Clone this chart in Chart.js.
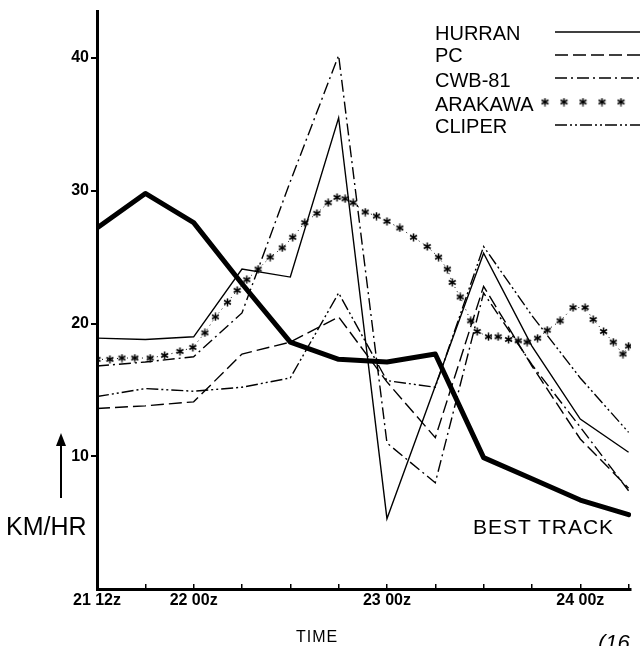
<!DOCTYPE html>
<html><head><meta charset="utf-8">
<script src="https://cdn.jsdelivr.net/npm/chart.js@4"></script>
<style>
html,body{margin:0;padding:0;background:#fff;overflow:hidden}
#wrap{position:relative;width:640px;height:646px;overflow:hidden;background:#fff}
canvas{position:absolute;left:0;top:0}
.t{position:absolute;font-family:"Liberation Sans",Arial,sans-serif;color:#000;white-space:nowrap;line-height:1}
</style></head><body>
<div id="wrap">
<canvas id="c" width="640" height="646"></canvas>
<div class="t" style="left:6px;top:514px;font-size:25px">KM/HR</div>
<div style="position:absolute;left:60px;top:444px;width:2px;height:54px;background:#000"></div>
<div style="position:absolute;left:56px;top:433px;width:0;height:0;border-left:5px solid transparent;border-right:5px solid transparent;border-bottom:13px solid #000"></div>
<div class="t" style="left:473px;top:516px;font-size:21px;letter-spacing:1px">BEST TRACK</div>
<div class="t" style="left:296px;top:629px;font-size:16px;letter-spacing:1px">TIME</div>
<div class="t" style="left:598px;top:632px;font-size:22px;font-style:italic">(16</div>
</div>
<script>
// ---- data ----
const hours = [0, 6, 12, 18, 24, 30, 36, 42, 48, 54, 60, 66];
const bestTrack = [27.2, 29.8, 27.6, 23.0, 18.6, 17.3, 17.1, 17.7, 9.9, 8.3, 6.7, 5.6];
const hurran = [18.9, 18.8, 19.0, 24.1, 23.5, 35.5, 5.3, 15.3, 25.3, 18.3, 12.8, 10.3];
const pc     = [13.6, 13.8, 14.1, 17.7, 18.6, 20.5, 15.6, 11.4, 22.8, 16.8, 11.3, 7.6];
const cwb81  = [16.8, 17.1, 17.5, 20.8, 30.7, 40.2, 11.0, 8.0, 22.3, 16.9, 12.2, 7.4];
const cliper = [14.5, 15.1, 14.9, 15.2, 15.9, 22.3, 15.7, 15.2, 25.8, 20.6, 15.9, 11.8];
const arakawaHours = [0, 1.6, 3.1, 4.7, 6.6, 8.4, 10.3, 11.9, 13.4, 14.7, 16.2, 17.4, 18.6, 20.0, 21.5, 23.0, 24.3, 25.8, 27.3, 28.7, 29.8, 30.8, 31.8, 33.3, 34.7, 36.0, 37.6, 39.3, 41.0, 42.4, 43.5, 44.1, 45.1, 46.4, 47.2, 48.6, 49.8, 51.1, 52.3, 53.4, 54.7, 55.9, 57.5, 59.1, 60.6, 61.6, 62.9, 64.1, 65.3, 66.0];
const arakawaValues = [17.3, 17.3, 17.4, 17.4, 17.4, 17.6, 17.9, 18.2, 19.3, 20.5, 21.6, 22.5, 23.3, 24.1, 25.0, 25.7, 26.5, 27.6, 28.3, 29.1, 29.5, 29.4, 29.1, 28.4, 28.1, 27.7, 27.2, 26.5, 25.8, 25.0, 24.1, 23.1, 22.0, 20.2, 19.4, 19.0, 19.0, 18.8, 18.7, 18.6, 18.9, 19.5, 20.2, 21.2, 21.2, 20.3, 19.4, 18.6, 17.7, 18.3];
const seriesNames = ['HURRAN', 'PC', 'CWB-81', 'ARAKAWA', 'CLIPER'];
const xTickHours = [0, 12, 36, 60];
const xTickLabels = ['21 12z', '22 00z', '23 00z', '24 00z'];
const yTickValues = [10, 20, 30, 40];

// asterisk point image
function makeStar(size) {
  const c = document.createElement('canvas');
  c.width = size; c.height = size;
  const g = c.getContext('2d');
  g.strokeStyle = '#000'; g.lineWidth = 1.5;
  const r = size / 2 - 0.5, cx = size / 2, cy = size / 2;
  for (let i = 0; i < 3; i++) {
    const a = Math.PI / 2 + i * Math.PI / 3;
    g.beginPath();
    g.moveTo(cx + r * Math.cos(a), cy - r * Math.sin(a));
    g.lineTo(cx - r * Math.cos(a), cy + r * Math.sin(a));
    g.stroke();
  }
  return c;
}
const starImg = makeStar(9);

const pts = arr => arr.map((v, i) => ({x: hours[i], y: v}));
const styles = {
  HURRAN: {dash: []},
  PC: {dash: [13, 5]},
  'CWB-81': {dash: [12, 4, 2, 4]},
  CLIPER: {dash: [12, 3, 2, 3, 2, 3]}
};

const datasets = [
  {label: 'BEST TRACK', data: pts(bestTrack), borderColor: '#000', borderWidth: 5, pointRadius: 0, borderJoinStyle: 'round', borderCapStyle: 'round'},
  {label: seriesNames[0], data: pts(hurran), borderColor: '#000', borderWidth: 1.4, pointRadius: 0},
  {label: seriesNames[1], data: pts(pc), borderColor: '#000', borderWidth: 1.4, pointRadius: 0, borderDash: styles.PC.dash},
  {label: seriesNames[2], data: pts(cwb81), borderColor: '#000', borderWidth: 1.4, pointRadius: 0, borderDash: styles['CWB-81'].dash},
  {label: seriesNames[3], data: arakawaHours.map((h, i) => ({x: h, y: arakawaValues[i]})), borderColor: '#000', borderWidth: 1, borderDash: [1, 4], showLine: true, pointStyle: starImg, pointRadius: 4},
  {label: seriesNames[4], data: pts(cliper), borderColor: '#000', borderWidth: 1.4, pointRadius: 0, borderDash: styles.CLIPER.dash}
];

const legendPlugin = {
  id: 'customLegend',
  afterDraw(chart) {
    const ctx = chart.ctx;
    const textY = [34, 56, 81, 105, 127];
    const lineY = [32, 55, 78, 102, 125];
    ctx.save();
    ctx.fillStyle = '#000';
    ctx.font = '20px "Liberation Sans", Arial, sans-serif';
    ctx.textBaseline = 'middle';
    ctx.textAlign = 'left';
    seriesNames.forEach((name, i) => {
      ctx.fillText(name, 435, textY[i]);
      ctx.strokeStyle = '#000';
      ctx.lineWidth = 1.5;
      if (name === 'ARAKAWA') {
        for (let x = 545; x < 640; x += 19) ctx.drawImage(starImg, x - 4.5, lineY[i] - 4.5);
      } else {
        ctx.setLineDash(styles[name].dash);
        ctx.beginPath();
        ctx.moveTo(555, lineY[i]);
        ctx.lineTo(640, lineY[i]);
        ctx.stroke();
        ctx.setLineDash([]);
      }
    });
    ctx.restore();
  }
};

new Chart(document.getElementById('c'), {
  type: 'line',
  data: {datasets},
  plugins: [legendPlugin],
  options: {
    responsive: false,
    animation: false,
    devicePixelRatio: 1,
    layout: {padding: {top: 10, right: 9, left: 0, bottom: 0}},
    plugins: {legend: {display: false}, tooltip: {enabled: false}},
    elements: {line: {tension: 0, fill: false}},
    scales: {
      x: {
        type: 'linear', min: 0, max: 66.3,
        afterFit: s => { s.height = 57; },
        afterBuildTicks: s => { s.ticks = hours.map(v => ({value: v})); },
        grid: {drawOnChartArea: false, drawTicks: true, tickLength: -5, color: '#000', lineWidth: 1.5},
        border: {display: true, color: '#000', width: 3},
        ticks: {
          padding: 7, maxRotation: 0, autoSkip: false, color: '#000',
          font: {family: '"Liberation Sans", Arial, sans-serif', size: 16, weight: 'bold'},
          callback: v => { const i = xTickHours.indexOf(v); return i >= 0 ? xTickLabels[i] : ''; }
        }
      },
      y: {
        type: 'linear', min: 0, max: 43.5,
        afterFit: s => { s.width = 97; },
        afterBuildTicks: s => { s.ticks = yTickValues.map(v => ({value: v})); },
        grid: {drawOnChartArea: false, drawTicks: true, tickLength: 6, color: '#000', lineWidth: 2},
        border: {display: true, color: '#000', width: 3},
        ticks: {
          padding: 2, color: '#000',
          font: {family: '"Liberation Sans Narrow", "Liberation Sans", Arial, sans-serif', size: 16, weight: 'bold'}
        }
      }
    }
  }
});
</script>
</body></html>
